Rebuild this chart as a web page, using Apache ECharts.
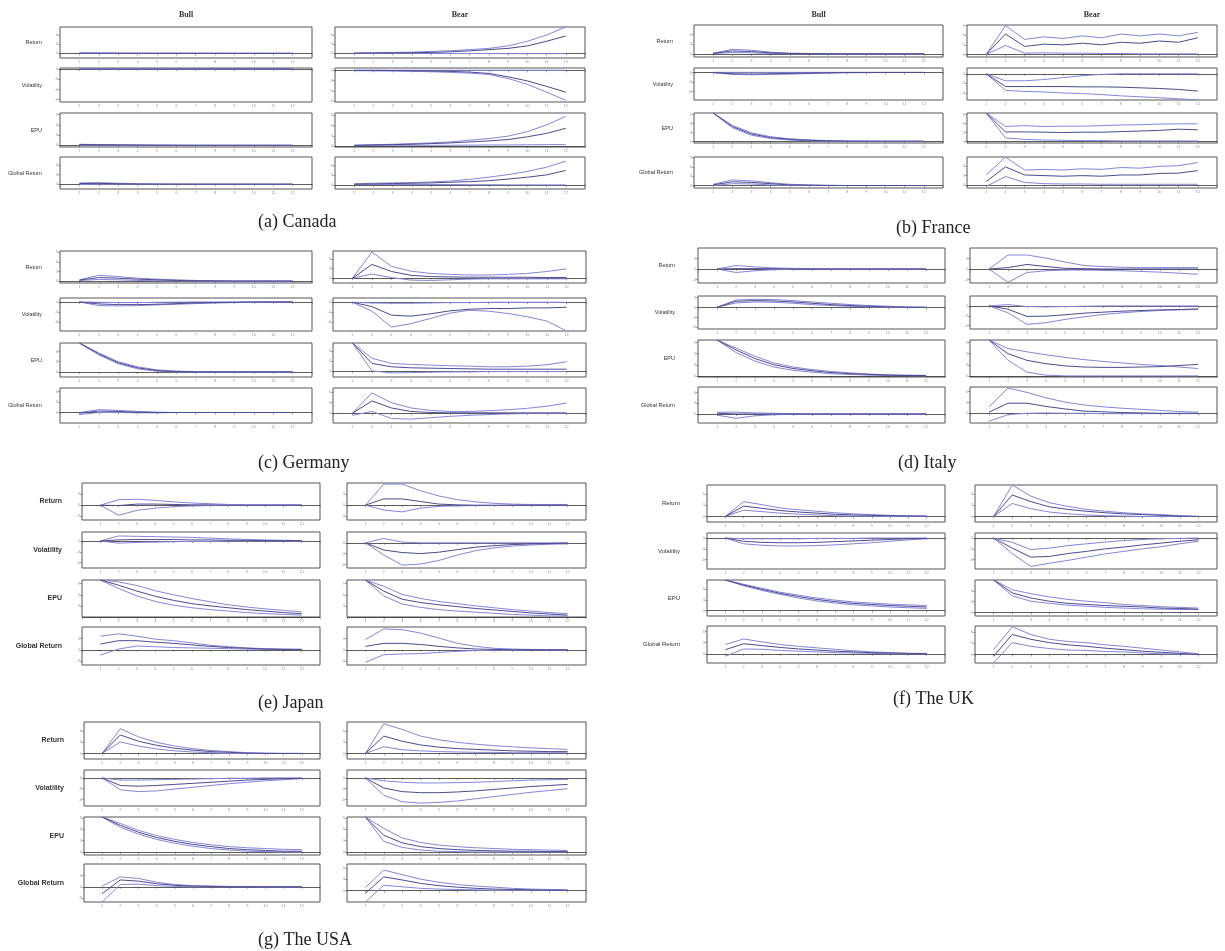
<!DOCTYPE html>
<html><head><meta charset="utf-8">
<script src="https://cdn.jsdelivr.net/npm/echarts/dist/echarts.min.js"></script>
<style>html,body{margin:0;padding:0;background:#fff}#c{width:1225px;height:951px}</style>
</head><body><div id="c"></div>
<script>
// ---------------- DATA ----------------
const HORIZONS = [1,2,3,4,5,6,7,8,9,10,11,12];
const VARIABLES = ['Return','Volatility','EPU','Global Return'];
const REGIMES = ['Bull','Bear'];
// Each array: [Return, Volatility, EPU, Global Return]; each variable: [lower band, median, upper band]
const canadaBull = [
 [[0,-0.05,-0.05,-0.05,-0.05,0,0,0,0,0,0,0],[0.05,0.05,0.03,0.02,0.01,0,0,0,0,0,0,0],[0.15,0.12,0.1,0.08,0.06,0.05,0.04,0.03,0.02,0.02,0.01,0.01]],
 [[-0.05,-0.08,-0.08,-0.06,-0.05,-0.04,-0.03,-0.02,-0.02,-0.01,-0.01,-0.01],[-0.02,-0.03,-0.03,-0.02,-0.02,-0.01,-0.01,0,0,0,0,0],[0.02,0.02,0.02,0.01,0.01,0.01,0,0,0,0,0,0]],
 [[0.1,0.08,0.05,0.03,0.01,0,0,0,0,0,0,0],[0.2,0.15,0.1,0.06,0.03,0.01,0,0,0,0,0,0],[0.3,0.22,0.15,0.09,0.05,0.02,0.01,0,0,0,0,0]],
 [[-0.1,0,0,0,0,0,0,0,0,0,0,0],[0.2,0.25,0.15,0.05,0.02,0,0,0,0,0,0,0],[0.4,0.5,0.3,0.15,0.05,0.02,0,0,0,0,0,0]]
];
const canadaBullY = [[-1.5,8.5],[-9.7,0.3],[-0.5,9.5],[-1.5,8.5]];
const canadaBear = [
 [[0,0,0,0,0,-0.05,-0.05,-0.05,-0.1,-0.1,-0.1,-0.1],[0.05,0.1,0.15,0.2,0.3,0.5,0.8,1.2,1.6,2.4,3.9,5.6],[0.1,0.2,0.3,0.4,0.6,0.85,1.2,1.6,2.4,3.9,5.9,8.5]],
 [[-0.1,-0.15,-0.2,-0.3,-0.4,-0.6,-0.8,-1.2,-2.4,-4.1,-6.4,-8.8],[0,0,-0.05,-0.1,-0.2,-0.3,-0.5,-0.9,-1.9,-3.1,-4.7,-6.4],[0.05,0.05,0.05,0.05,0.05,0.05,0.05,0.05,0.05,0.05,0.05,0.05]],
 [[0.1,0.15,0.2,0.2,0.2,0.2,0.25,0.3,0.3,0.35,0.4,0.4],[0.2,0.3,0.4,0.5,0.7,0.9,1.2,1.5,1.9,2.7,3.7,5.2],[0.2,0.4,0.5,0.7,0.9,1.2,1.7,2.2,2.9,4.2,6.2,8.7]],
 [[0.1,0.1,0.1,0.1,0.1,0.1,0.05,0.05,0,0,0,0],[0.2,0.3,0.4,0.5,0.6,0.8,1.0,1.3,1.8,2.4,3.1,4.5],[0.3,0.5,0.6,0.7,0.9,1.2,1.7,2.4,3.2,4.2,5.5,7.4]]
];
const canadaBearY = [[-1.5,8.5],[-9.3,0.7],[-0.3,9.7],[-1.3,8.7]];
const franceBull = [
 [[0.1,0.4,0.3,0.1,0,0,0,0,0,0,0,0],[0.1,0.9,0.7,0.3,0.1,0.05,0,0,0,0,0,0],[0.2,1.4,1.1,0.5,0.2,0.1,0,0,0,0,0,0]],
 [[-0.1,-0.6,-0.7,-0.6,-0.5,-0.35,-0.2,-0.1,-0.05,0,0,0],[0,-0.4,-0.5,-0.4,-0.3,-0.2,-0.1,0,0,0,0,0],[0.05,0.05,0.05,0.05,0.05,0.05,0.05,0.05,0.05,0.05,0.05,0.05]],
 [[9.5,4.6,2.1,1.0,0.5,0.25,0.1,0.05,0,0,0,0],[9.5,5.0,2.5,1.3,0.7,0.4,0.2,0.1,0.1,0.1,0.1,0.1],[9.5,5.4,2.9,1.6,0.9,0.55,0.3,0.2,0.15,0.1,0.1,0.1]],
 [[0,0.6,0.5,0.2,0,0,0,0,0,0,0,0],[0.2,1.2,1.0,0.6,0.2,0.1,0,0,0,0,0,0],[0.4,1.8,1.5,0.9,0.4,0.2,0.1,0,0,0,0,0]]
];
const franceBullY = [[-1,9],[-8.6,1.4],[-0.5,9.5],[-0.8,9.2]];
const franceBear = [
 [[0,2.8,0.4,0.5,0.4,0.4,0.3,0.3,0.2,0.2,0.2,0.2],[0,6.4,2.5,3.2,3.0,3.5,3.0,3.8,3.5,4.2,3.8,5.2],[0,9.0,4.7,5.5,5.0,5.8,5.2,6.4,5.8,6.4,5.8,6.9]],
 [[0,-5.2,-5.5,-5.7,-6.0,-6.2,-6.5,-6.9,-7.2,-7.5,-7.8,-8.2],[0,-4.0,-4.0,-4.0,-4.0,-4.1,-4.1,-4.2,-4.4,-4.6,-4.9,-5.4],[0,-2.2,-2.2,-1.8,-1.2,-0.6,-0.2,0,0,0,0,0]],
 [[9.5,1.2,0.7,0.5,0.4,0.3,0.3,0.2,0.2,0.2,0.2,0.2],[9.5,3.2,3.2,3.1,3.0,3.1,3.1,3.3,3.5,3.7,4.1,3.9],[9.5,5.0,5.3,5.0,5.1,5.1,5.3,5.5,5.6,5.8,5.9,5.9]],
 [[-0.5,2.7,0.8,0.4,0.3,0.3,0.2,0.2,0.2,0.2,0.2,0.2],[1.1,5.8,3.2,3.0,2.8,3.0,2.8,3.2,3.2,3.7,3.8,4.6],[3.2,9.0,4.8,5.0,4.8,5.2,5.0,5.6,5.4,6.0,6.2,7.2]]
];
const franceBearY = [[-0.8,9.2],[-8.2,1.8],[-0.5,9.5],[-1,9]];
const germanyBull = [
 [[0.2,0.5,0.4,0.2,0.1,0.05,0,0,0,0,0,0],[0.3,1.1,0.9,0.6,0.4,0.2,0.1,0.05,0,0,0,0],[0.4,1.8,1.4,0.9,0.6,0.4,0.2,0.1,0,0,0,0]],
 [[0,-1.1,-1.2,-1.1,-0.9,-0.7,-0.5,-0.3,-0.2,-0.1,0,0],[0,-0.6,-0.8,-0.8,-0.7,-0.5,-0.3,-0.2,-0.1,0,0,0],[0,-0.1,-0.2,-0.2,-0.1,-0.05,0,0,0,0,0,0]],
 [[8.5,5.0,2.4,0.9,0.2,0,-0.05,-0.05,0,0,0,0],[8.5,5.3,2.7,1.2,0.4,0.1,0,0,0,0,0,0],[8.5,5.6,3.0,1.5,0.6,0.25,0.1,0.05,0,0,0,0]],
 [[-0.6,0,0,-0.1,-0.1,0,0,0,0,0,0,0],[-0.2,0.4,0.3,0.1,0,0,0,0,0,0,0,0],[0,0.8,0.6,0.3,0.1,0,0,0,0,0,0,0]]
];
const germanyBullY = [[-0.6,9.4],[-8.8,1.2],[-1.5,8.5],[-3,7]];
const germanyBear = [
 [[0,1.3,0.2,-0.6,-0.7,-0.5,-0.3,-0.2,-0.2,-0.2,-0.2,-0.2],[0,4.3,2.1,0.9,0.5,0.4,0.3,0.3,0.3,0.3,0.2,0.2],[0,8.2,3.7,2.2,1.5,1.2,1.0,1.0,1.2,1.5,2.1,2.9]],
 [[0,-2.7,-7.5,-6.5,-4.9,-3.3,-2.4,-2.7,-3.4,-4.4,-5.7,-8.7],[0,-1.3,-3.9,-4.2,-3.5,-2.6,-2.1,-1.9,-1.9,-1.7,-1.7,-1.5],[0,-0.2,-0.3,-0.3,-0.2,-0.1,-0.1,0,0,0,0,0]],
 [[8.3,0.1,-0.5,-0.4,-0.3,-0.2,-0.2,-0.1,-0.1,-0.1,-0.1,-0.1],[8.3,2.3,1.3,1.0,0.9,0.8,0.7,0.6,0.6,0.6,0.6,0.6],[8.3,3.8,2.3,2.0,1.8,1.6,1.5,1.3,1.3,1.5,1.9,2.8]],
 [[-0.6,0.5,-1.5,-1.7,-1.3,-0.9,-0.6,-0.4,-0.2,-0.1,-0.1,-0.1],[0,3.5,1.5,0.5,0.2,0.1,0.1,0.1,0.1,0.1,0.1,0.1],[0,5.8,3.0,1.5,0.8,0.5,0.5,0.7,1.0,1.4,2.0,2.9]]
];
const germanyBearY = [[-1.5,8.5],[-8.7,1.3],[-1.7,8.3],[-2.8,7.2]];
const italyBull = [
 [[0,-1.0,-0.5,-0.2,-0.1,0,0,0,0,0,0,0],[0,0.1,0.1,0.1,0,0,0,0,0,0,0,0],[0,1.0,0.6,0.3,0.2,0.1,0,0,0,0,0,0]],
 [[0.1,1.4,1.7,1.6,1.3,0.9,0.6,0.4,0.2,0.1,0,0],[0.1,1.9,2.1,2.0,1.7,1.3,0.9,0.6,0.4,0.2,0.1,0.1],[0.1,2.3,2.5,2.4,2.1,1.7,1.3,0.9,0.6,0.4,0.2,0.1]],
 [[9.7,6.3,4.0,2.4,1.5,1.0,0.6,0.4,0.2,0.1,0.05,0],[9.7,7.0,4.7,3.0,2.0,1.4,0.9,0.6,0.4,0.2,0.1,0.1],[9.7,7.5,5.3,3.5,2.4,1.7,1.2,0.8,0.5,0.3,0.2,0.15]],
 [[-0.3,-1.2,-0.5,-0.2,-0.1,0,0,0,0,0,0,0],[0.2,0,0,0,0,0,0,0,0,0,0,0],[0.5,0.5,0.3,0.2,0.1,0,0,0,0,0,0,0]]
];
const italyBullY = [[-4,6],[-6.5,3.5],[-0.3,9.7],[-2.5,7.5]];
const italyBear = [
 [[0,-3.8,-1.0,-0.5,-0.3,-0.3,-0.4,-0.5,-0.7,-0.9,-1.2,-1.5],[0,0.4,1.3,0.7,0.2,0.1,0,0,0,0,0,0],[0,4.0,4.0,3.1,2.0,1.0,0.7,0.5,0.4,0.4,0.4,0.4]],
 [[0,-2.1,-5.6,-5.1,-4.1,-3.3,-2.6,-2.1,-1.7,-1.4,-1.2,-1.1],[0,-1.0,-3.2,-3.1,-2.7,-2.2,-1.9,-1.6,-1.4,-1.2,-1.1,-0.9],[0,0.4,-0.2,-0.3,-0.2,-0.1,0,0,0,0,0,0]],
 [[9.7,4.2,1.0,0.2,0,0,0,0,0,0,0,0],[9.7,6.0,4.2,3.3,2.7,2.4,2.3,2.3,2.4,2.5,2.8,3.1],[9.7,7.4,6.5,5.7,5.0,4.4,3.9,3.5,3.1,2.8,2.4,2.0]],
 [[-2.2,-0.4,0,0.1,0,0,-0.1,-0.1,-0.1,-0.1,-0.1,-0.1],[0.3,2.8,2.8,1.9,1.2,0.6,0.4,0.2,0.1,0,0,0],[1.8,7.0,5.8,4.3,3.1,2.3,1.8,1.4,1.1,0.8,0.5,0.3]]
];
const italyBearY = [[-4,6],[-7,3],[-0.3,9.7],[-2.7,7.3]];
const japanBull = [
 [[0,-2.7,-1.4,-0.8,-0.4,-0.2,-0.1,-0.1,0,0,0,0],[0,-0.1,0.3,0.3,0.2,0.1,0.1,0,0,0,0,0],[0,1.5,1.6,1.3,0.9,0.6,0.4,0.2,0.1,0.1,0.1,0.1]],
 [[0,-0.6,-0.4,-0.3,-0.2,-0.1,-0.1,0,0,0,0,0],[0,0.3,0.4,0.4,0.4,0.3,0.3,0.2,0.2,0.1,0.1,0.1],[0,1.4,1.3,1.2,1.1,1.0,0.8,0.6,0.4,0.3,0.2,0.1]],
 [[10,7.7,5.7,4.2,3.2,2.5,2.0,1.6,1.2,0.9,0.7,0.5],[10,8.6,7.0,5.6,4.5,3.6,3.0,2.5,2.0,1.6,1.2,0.9],[10,9.5,8.5,7.1,6.0,5.0,4.1,3.3,2.7,2.2,1.8,1.4]],
 [[-1.4,0.2,1.0,0.8,0.6,0.5,0.4,0.3,0.2,0.1,0.1,0.1],[1.5,2.4,2.4,2.0,1.7,1.3,0.9,0.6,0.4,0.2,0.1,0.1],[3.6,4.2,3.6,2.8,2.4,1.8,1.2,0.8,0.5,0.3,0.2,0.1]]
];
const japanBullY = [[-4,6],[-7.5,2.5],[0,10],[-4,6]];
const japanBear = [
 [[0,-1.3,-1.8,-0.8,-0.3,-0.2,-0.1,-0.1,0,0,0,0],[0,1.7,1.7,1.0,0.3,0.1,0,0,0,0,0,0],[0,5.7,5.7,3.9,2.5,1.5,0.9,0.5,0.3,0.2,0.2,0.2]],
 [[0,-3.4,-6.2,-5.9,-4.9,-3.4,-2.2,-1.4,-0.9,-0.6,-0.4,-0.3],[0,-2.0,-2.7,-3.0,-2.6,-1.9,-1.2,-0.8,-0.5,-0.3,-0.2,-0.1],[0,1.2,0.2,0,0,0,0,0,0,0,0,0]],
 [[10,5.7,3.5,2.6,2.0,1.6,1.3,1.0,0.7,0.5,0.3,0.2],[10,7.0,4.8,3.9,3.3,2.8,2.3,1.9,1.5,1.1,0.8,0.5],[10,8.3,6.1,5.0,4.2,3.6,3.0,2.5,2.0,1.6,1.2,0.9]],
 [[-3.3,-1.3,-1.1,-1.0,-0.7,-0.4,-0.2,-0.1,-0.1,0,0,0],[0.9,1.7,1.7,1.4,0.9,0.5,0.2,0.1,0,0,0,0],[2.7,5.5,5.3,4.4,3.1,1.7,0.9,0.4,0.2,0.1,0,0]]
];
const japanBearY = [[-4,6],[-7,3],[0,10],[-4,6]];
const ukBull = [
 [[0,1.7,1.3,0.9,0.6,0.4,0.2,0.1,0.1,0,0,0],[0,2.8,2.2,1.6,1.2,0.9,0.6,0.4,0.3,0.2,0.1,0.1],[0,4.0,3.2,2.3,1.8,1.4,1.0,0.7,0.5,0.3,0.2,0.1]],
 [[0,-1.6,-2.0,-2.2,-2.2,-2.1,-1.9,-1.6,-1.3,-0.9,-0.5,-0.2],[0,-0.9,-1.2,-1.3,-1.3,-1.2,-1.0,-0.8,-0.6,-0.4,-0.2,-0.1],[0,-0.2,-0.2,-0.2,-0.2,-0.1,-0.1,-0.1,0,0,0,0]],
 [[8.5,6.9,5.6,4.5,3.5,2.7,2.1,1.6,1.3,1.0,0.8,0.6],[8.5,7.1,5.9,4.8,3.9,3.1,2.5,2.0,1.7,1.4,1.2,1.0],[8.5,7.3,6.2,5.1,4.3,3.5,2.9,2.4,2.1,1.8,1.6,1.4]],
 [[-0.7,1.3,1.2,0.9,0.7,0.5,0.3,0.2,0.1,0,0,0],[1.1,2.7,2.2,1.7,1.3,1.0,0.7,0.5,0.3,0.2,0.1,0],[2.5,4.0,3.2,2.5,2.0,1.6,1.2,0.8,0.5,0.3,0.1,0.1]]
];
const ukBullY = [[-1.5,8.5],[-8.6,1.4],[-1.5,8.5],[-2.5,7.5]];
const ukBear = [
 [[0,3.5,2.1,1.2,0.7,0.4,0.2,0.1,0,0,0,0],[0,5.8,4.0,2.6,1.9,1.4,1.0,0.7,0.5,0.3,0.1,0],[0,8.5,5.5,3.7,2.7,1.9,1.4,1.0,0.7,0.5,0.2,0]],
 [[0,-4.3,-7.9,-7.0,-6.2,-5.3,-4.4,-3.7,-3.0,-2.4,-1.6,-0.9],[0,-2.8,-5.3,-5.1,-4.3,-3.7,-3.0,-2.5,-1.9,-1.4,-0.9,-0.5],[0,-1.2,-3.2,-2.8,-2.1,-1.6,-1.1,-0.7,-0.4,-0.2,-0.1,0]],
 [[9,4.6,3.1,2.5,2.0,1.7,1.4,1.2,1.0,0.9,0.8,0.8],[9,5.4,4.0,3.1,2.5,2.2,1.9,1.7,1.5,1.2,1.1,0.9],[9,6.3,5.2,4.3,3.6,3.1,2.7,2.2,1.9,1.6,1.4,1.2]],
 [[-2.3,3.2,2.2,1.6,1.2,1.1,0.8,0.7,0.4,0.2,0.1,0],[-0.5,5.4,4.1,3.2,2.6,2.2,1.7,1.3,0.9,0.6,0.3,0],[1.3,7.5,5.4,4.1,3.5,3.2,2.6,2.2,1.7,1.2,0.7,0.2]]
];
const ukBearY = [[-1.5,8.5],[-8.6,1.4],[-1,9],[-2.3,7.7]];
const usaBull = [
 [[0,3.1,2.0,1.2,0.7,0.4,0.2,0,0,0,0,0],[0,5.0,3.3,2.2,1.4,0.9,0.5,0.3,0.1,0,0,0],[0,6.7,4.5,3.0,2.0,1.3,0.8,0.5,0.2,0.1,0,0]],
 [[0,-3.3,-3.8,-3.6,-3.1,-2.6,-2.1,-1.6,-1.2,-0.8,-0.5,-0.2],[0,-2.1,-2.3,-2.1,-1.8,-1.5,-1.2,-0.9,-0.6,-0.4,-0.2,-0.1],[0,-0.6,-0.6,-0.5,-0.4,-0.3,-0.2,-0.1,-0.1,0,0,0]],
 [[9.2,6.5,4.7,3.3,2.3,1.5,0.9,0.5,0.2,0.1,0,0],[9.2,7.0,5.2,3.8,2.8,2.0,1.4,0.9,0.6,0.4,0.2,0.2],[9.2,7.5,5.7,4.3,3.3,2.5,1.9,1.4,1.1,0.9,0.7,0.6]],
 [[-4.0,0.6,0.7,0.3,0.1,0,0,0,0,0,0,0],[-1.8,1.8,1.5,0.8,0.4,0.2,0.1,0,0,0,0,0],[0.2,2.6,2.2,1.2,0.6,0.3,0.2,0.1,0.1,0,0,0]]
];
const usaBullY = [[-1.5,8.5],[-7.8,2.2],[-0.8,9.2],[-4,6]];
const usaBear = [
 [[0,1.8,1.0,0.7,0.5,0.4,0.3,0.3,0.2,0.2,0.2,0.2],[0,4.7,3.3,2.3,1.7,1.3,1.1,0.9,0.7,0.6,0.5,0.5],[0,8.0,6.5,4.7,3.7,3.0,2.5,2.1,1.8,1.5,1.3,1.1]],
 [[0,-4.8,-6.6,-7.0,-6.8,-6.4,-5.8,-5.2,-4.6,-4.0,-3.5,-3.0],[0,-2.8,-3.8,-4.1,-4.1,-3.9,-3.6,-3.2,-2.8,-2.4,-2.1,-1.8],[0,-0.8,-1.2,-1.4,-1.4,-1.3,-1.2,-1.0,-0.8,-0.6,-0.5,-0.4]],
 [[9.2,2.8,1.2,0.5,0.2,0.1,0,0,0,0,0,0],[9.2,4.4,2.4,1.4,0.9,0.6,0.4,0.3,0.2,0.2,0.1,0.1],[9.2,6.2,3.7,2.5,1.8,1.4,1.1,0.9,0.7,0.6,0.5,0.4]],
 [[-3.0,1.4,1.0,0.6,0.4,0.3,0.2,0.1,0.1,0.1,0.1,0.1],[-0.7,3.6,2.8,1.9,1.3,0.9,0.6,0.4,0.3,0.2,0.1,0.1],[0.8,5.4,4.2,3.0,2.2,1.6,1.2,0.9,0.6,0.4,0.3,0.2]]
];
const usaBearY = [[-1.5,8.5],[-7.8,2.2],[-0.8,9.2],[-3,7]];

// ---------------- LAYOUT ----------------
const PANELS = [
 {caption:'(a) Canada', data:[canadaBull,canadaBear], yr:[canadaBullY,canadaBearY], cols:[[60,312],[335,585]], rows:[[27,58],[68,102],[113,147],[157,189]], cap:[258,222], titles:true, lf:'5.5px', lb:false, gap:18},
 {caption:'(b) France', data:[franceBull,franceBear], yr:[franceBullY,franceBearY], cols:[[694,943],[967,1217]], rows:[[25,57],[68,100],[113,143],[157,188]], cap:[896,228], titles:true, lf:'5.5px', lb:false, gap:21},
 {caption:'(c) Germany', data:[germanyBull,germanyBear], yr:[germanyBullY,germanyBearY], cols:[[60,312],[333,586]], rows:[[251,283],[298,331],[343,377],[388,423]], cap:[258,463], titles:false, lf:'5.5px', lb:false, gap:18},
 {caption:'(d) Italy', data:[italyBull,italyBear], yr:[italyBullY,italyBearY], cols:[[698,945],[970,1217]], rows:[[248,283],[296,329],[340,377],[387,423]], cap:[898,463], titles:false, lf:'5.5px', lb:false, gap:23},
 {caption:'(e) Japan', data:[japanBull,japanBear], yr:[japanBullY,japanBearY], cols:[[82,320],[347,586]], rows:[[483,520],[532,568],[580,617],[627,665]], cap:[258,703], titles:false, lf:'7px', lb:true, gap:20},
 {caption:'(f) The UK', data:[ukBull,ukBear], yr:[ukBullY,ukBearY], cols:[[707,945],[975,1217]], rows:[[485,522],[533,569],[580,616],[626,663]], cap:[893,699], titles:false, lf:'6px', lb:false, gap:27},
 {caption:'(g) The USA', data:[usaBull,usaBear], yr:[usaBullY,usaBearY], cols:[[84,320],[347,586]], rows:[[722,759],[770,806],[817,855],[864,902]], cap:[258,940], titles:false, lf:'7px', lb:true, gap:20}
];

const BAND = '#8585dc';
const MED = '#4b4b8f';
const grid=[], xAxis=[], yAxis=[], series=[], graphic=[];
let gi = 0;
PANELS.forEach(p => {
  p.cols.forEach((c, r) => {
    if (p.titles) {
      graphic.push({type:'text', x:(c[0]+c[1])/2, y:15, style:{text:REGIMES[r], font:'bold 8px "Liberation Serif"', fill:'#333', textAlign:'center', textVerticalAlign:'middle'}});
    }
    p.rows.forEach((row, v) => {
      grid.push({left:c[0], top:row[0], width:c[1]-c[0], height:row[1]-row[0], show:true, borderColor:'#555', borderWidth:1, backgroundColor:'#fff', containLabel:false});
      xAxis.push({type:'value', gridIndex:gi, min:0, max:13, interval:1,
        axisLine:{show:false}, splitLine:{show:false},
        axisTick:{show:true, length:2, lineStyle:{color:'#666', width:0.6}},
        axisLabel:{fontSize:4, color:'#999', margin:2, formatter: val => (val>=1 && val<=12) ? String(val) : ''}});
      const yr = p.yr[r][v];
      yAxis.push({type:'value', gridIndex:gi, min:yr[0], max:yr[1], splitNumber:4,
        axisLine:{show:false}, splitLine:{show:false},
        axisTick:{show:true, length:2, lineStyle:{color:'#666', width:0.6}},
        axisLabel:{fontSize:4, color:'#999', margin:2, showMinLabel:false, showMaxLabel:false}});
      const arr = p.data[r][v];
      arr.forEach((line, k) => {
        const s = {type:'line', xAxisIndex:gi, yAxisIndex:gi, symbol:'none', silent:true,
          data: HORIZONS.map((h, i) => [h, line[i]]),
          lineStyle:{width:1, color: k===1 ? MED : BAND}, z: k===1 ? 4 : 3};
        if (k === 1) {
          s.markLine = {silent:true, symbol:['none','none'], label:{show:false},
            lineStyle:{color:'#333', width:0.8, type:'solid'}, data:[{yAxis:0}], z:2};
        }
        series.push(s);
      });
      if (r === 0) {
        graphic.push({type:'text', x:c[0]-p.gap, y:(row[0]+row[1])/2,
          style:{text:VARIABLES[v], font:(p.lb?'bold ':'')+p.lf+' "Liberation Sans"', fill:'#333', textAlign:'right', textVerticalAlign:'middle'}});
      }
      gi++;
    });
  });
  graphic.push({type:'text', x:p.cap[0], y:p.cap[1], style:{text:p.caption, font:'18px "Liberation Serif"', fill:'#222', textAlign:'left', textVerticalAlign:'middle'}});
});

const chart = echarts.init(document.getElementById('c'), null, {renderer:'canvas'});
chart.setOption({backgroundColor:'#fff', animation:false, grid, xAxis, yAxis, series, graphic});
</script>
</body></html>
